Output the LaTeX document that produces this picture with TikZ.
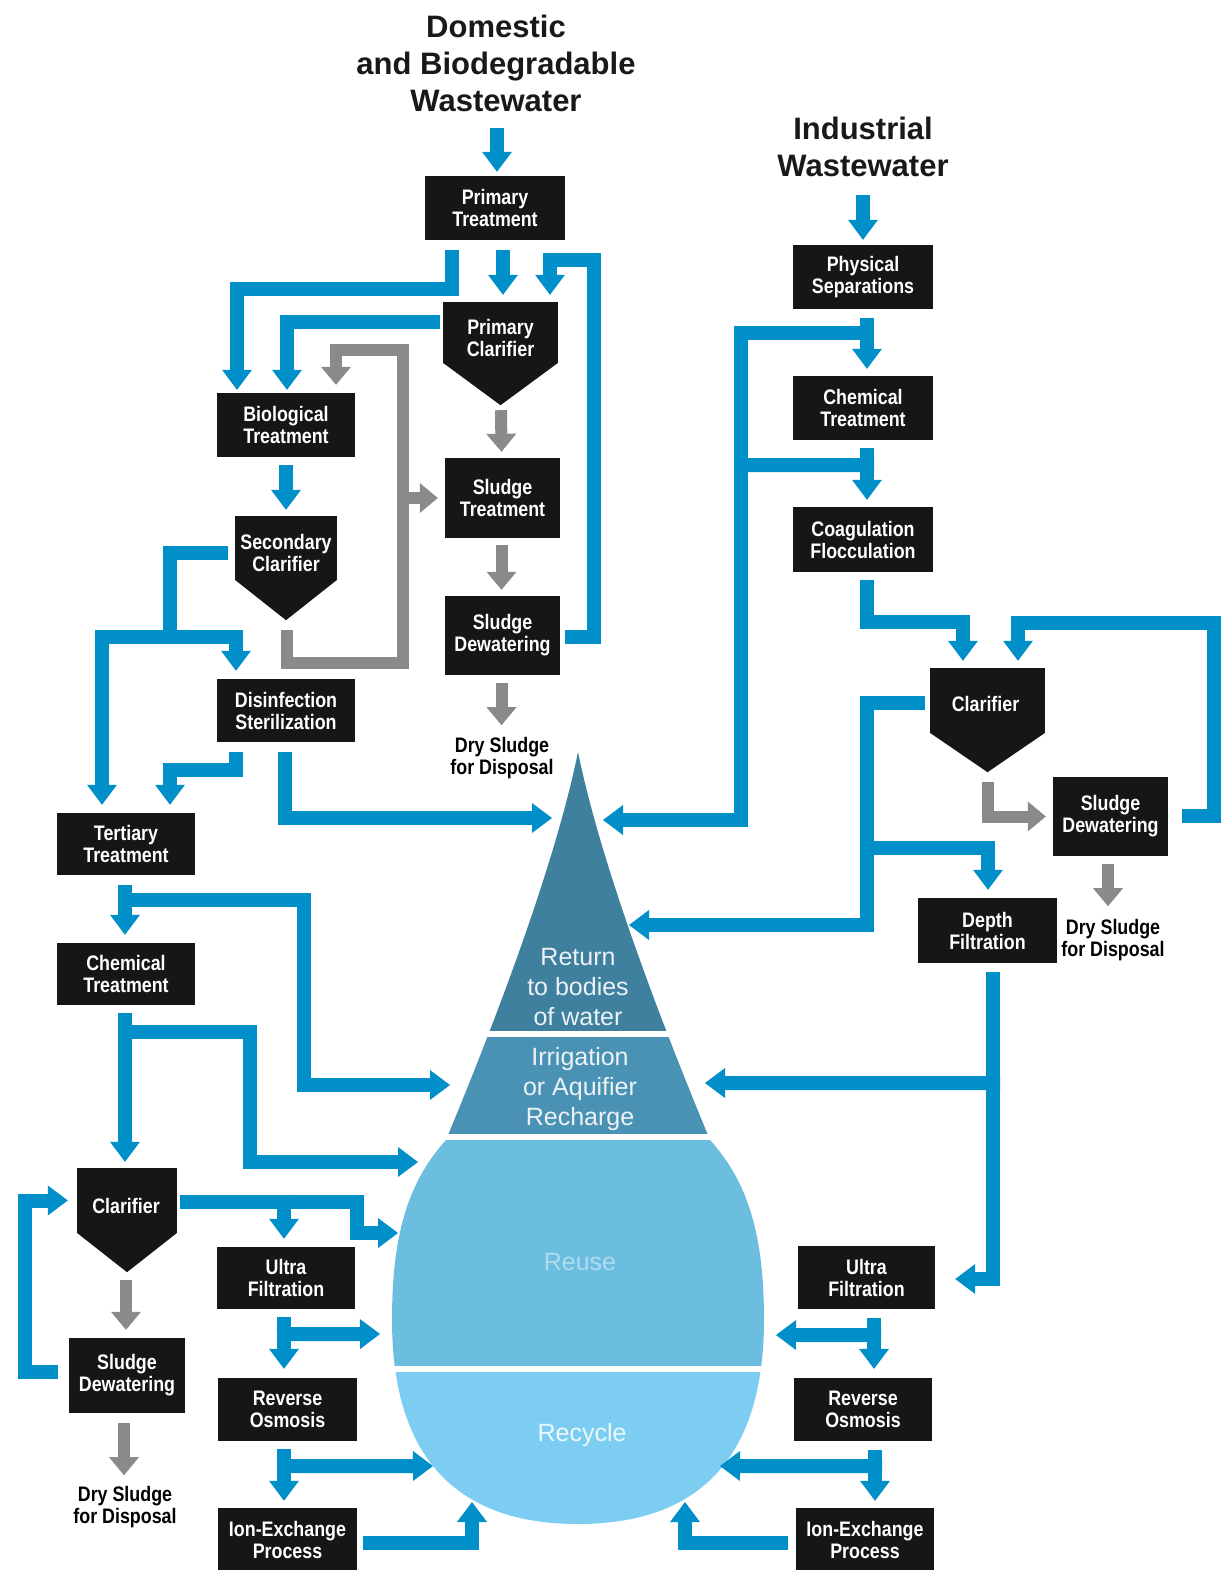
\documentclass[tikz,border=0pt]{standalone}
\usepackage{fontspec}
\setmainfont{Liberation Sans}
\newfontfamily\boxfont[FakeStretch=0.85]{Liberation Sans}
\newfontfamily\titlefont{Liberation Sans}
\usetikzlibrary{arrows.meta,calc}
\definecolor{flowblue}{RGB}{0,143,200}
\definecolor{flowgray}{RGB}{138,138,138}
\definecolor{boxblack}{RGB}{22,22,22}
\definecolor{dropA}{RGB}{62,128,158}
\definecolor{dropB}{RGB}{74,146,180}
\definecolor{dropC}{RGB}{108,190,225}
\definecolor{dropD}{RGB}{124,205,241}
\def\droppath{(578,752) .. controls (556,860) and (500,1010) .. (446,1140) .. controls (410,1180) and (392,1230) .. (392,1320) .. controls (392,1450) and (450,1524) .. (578,1524) .. controls (706,1524) and (764,1450) .. (764,1320) .. controls (764,1230) and (746,1180) .. (710,1140) .. controls (656,1010) and (600,860) .. (578,752) -- cycle}
\begin{document}
\begin{tikzpicture}[x=1pt,y=-1pt,
 box/.style={fill=boxblack,text=white,font=\boxfont\bfseries\fontsize{21}{22}\selectfont,align=center,inner sep=0pt},
 boxtext/.style={text=white,font=\boxfont\bfseries\fontsize{21}{22}\selectfont,align=center,inner sep=0pt},
 note/.style={text=black,font=\boxfont\bfseries\fontsize{21}{22}\selectfont,align=center,inner sep=0pt},
 title/.style={font=\titlefont\bfseries\fontsize{31}{37}\selectfont,align=center,text=black!90},
 droptext/.style={font=\fontsize{25}{30}\selectfont,align=center,text=white!90!dropA},
 bflow/.style={draw=flowblue,line width=14pt,line join=miter},
 barrow/.style={bflow,-{Triangle[width=30pt,length=20pt,line width=0pt]}},
 garrow/.style={draw=flowgray,line width=12pt,line join=miter,-{Triangle[width=30pt,length=18pt,line width=0pt]}},
]
\fill[white] (0,0) rectangle (1221,1570);
\useasboundingbox (0,0) rectangle (1221,1570);

% ---------- drop ----------
\coordinate (droptip) at (578,752);
\begin{scope}
\clip \droppath;
\fill[dropA] (370,740) rectangle (790,1031);
\fill[dropB] (370,1037) rectangle (790,1134);
\fill[dropC] (370,1140) rectangle (790,1366);
\fill[dropD] (370,1372) rectangle (790,1540);
\end{scope}
\node[droptext] (ret) at (578,987) {Return\\to bodies\\of water};
\node[droptext] (irr) at (580,1089) {Irrigation\\or Aquifier\\Recharge};
\node[droptext,text=white!45!dropC] (reu) at (580,1262) {Reuse};
\node[droptext,text=white!85!dropD] (rec) at (582,1435) {Recycle};

% ---------- titles ----------
\node[title] (dom) at (496,63) {Domestic\\and Biodegradable\\Wastewater};
\node[title] (ind) at (863,147) {Industrial\\Wastewater};

% ---------- left system ----------
\node[box,minimum width=140pt,minimum height=64pt] (pt) at (495,208) {Primary\\Treatment};
\node[box,minimum width=115pt,minimum height=61pt] (pc) at (500.5,332.5) {};
\fill[boxblack] ($(pc.south west)+(0,-0.5)$) -- ($(pc.south east)+(0,-0.5)$) -- ($(pc.south)+(0,42)$) -- cycle;
\node[boxtext] (pcl) at ($(pc.center)+(0,5)$) {Primary\\Clarifier};
\node[box,minimum width=138pt,minimum height=64pt] (bio) at (286,425) {Biological\\Treatment};
\node[box,minimum width=102pt,minimum height=64pt] (sc) at (286,548) {};
\fill[boxblack] ($(sc.south west)+(0,-0.5)$) -- ($(sc.south east)+(0,-0.5)$) -- ($(sc.south)+(0,40)$) -- cycle;
\node[boxtext] (scl) at ($(sc.center)+(0,4.5)$) {Secondary\\Clarifier};
\node[box,minimum width=115pt,minimum height=80pt] (st) at (502.5,498) {Sludge\\Treatment};
\node[box,minimum width=115pt,minimum height=79pt] (sd1) at (502.5,635.5) {Sludge\\Dewatering};
\node[note] (dry1) at (502,758) {Dry Sludge\\for Disposal};
\node[box,minimum width=138pt,minimum height=63pt] (dis) at (286,710.5) {Disinfection\\Sterilization};
\node[box,minimum width=138pt,minimum height=62pt] (ter) at (126,844) {Tertiary\\Treatment};
\node[box,minimum width=138pt,minimum height=62pt] (ch1) at (126,974) {Chemical\\Treatment};
\node[box,minimum width=100pt,minimum height=65pt] (cl1) at (127,1200.5) {};
\fill[boxblack] ($(cl1.south west)+(0,-0.5)$) -- ($(cl1.south east)+(0,-0.5)$) -- ($(cl1.south)+(0,39)$) -- cycle;
\node[boxtext] (cl1l) at ($(cl1.center)+(-1,5)$) {Clarifier};
\node[box,minimum width=116pt,minimum height=75pt] (sd2) at (127,1375.5) {Sludge\\Dewatering};
\node[note] (dry2) at (125,1507) {Dry Sludge\\for Disposal};
\node[box,minimum width=138pt,minimum height=62pt] (uf1) at (286,1278) {Ultra\\Filtration};
\node[box,minimum width=139pt,minimum height=63pt] (ro1) at (287.5,1409.5) {Reverse\\Osmosis};
\node[box,minimum width=139pt,minimum height=64pt] (ie1) at (287.5,1540) {Ion-Exchange\\Process};

% ---------- right system ----------
\node[box,minimum width=140pt,minimum height=64pt] (ps) at (863,277) {Physical\\Separations};
\node[box,minimum width=140pt,minimum height=64pt] (ch2) at (863,408) {Chemical\\Treatment};
\node[box,minimum width=140pt,minimum height=65pt] (cf) at (863,539.5) {Coagulation\\Flocculation};
\node[box,minimum width=115pt,minimum height=65pt] (cl2) at (987.5,700.5) {};
\fill[boxblack] ($(cl2.south west)+(0,-0.5)$) -- ($(cl2.south east)+(0,-0.5)$) -- ($(cl2.south)+(0,39)$) -- cycle;
\node[boxtext] (cl2l) at ($(cl2.center)+(-2,3)$) {Clarifier};
\node[box,minimum width=115pt,minimum height=79pt] (sd3) at (1110.5,816.5) {Sludge\\Dewatering};
\node[note] (dry3) at (1113,940) {Dry Sludge\\for Disposal};
\node[box,minimum width=139pt,minimum height=65pt] (df) at (987.5,930.5) {Depth\\Filtration};
\node[box,minimum width=137pt,minimum height=63pt] (uf2) at (866.5,1277.5) {Ultra\\Filtration};
\node[box,minimum width=138pt,minimum height=63pt] (ro2) at (863,1409.5) {Reverse\\Osmosis};
\node[box,minimum width=138pt,minimum height=64pt] (ie2) at (865,1540) {Ion-Exchange\\Process};

% ---------- left connectors ----------
\draw[barrow] ($(pt.north)+(2,-48)$) -- ($(pt.north)+(2,-4)$);
\draw[barrow] ($(pt.south)+(8,10)$) -- ($(pc.north)+(2.5,-7)$);
\draw[barrow] ($(pt.south)+(-43,10)$) |- ($(bio.north)+(-49,-104)$) -- ($(bio.north)+(-49,-3)$);
\draw[barrow] ($(pc.west)+(-3,-11)$) -| ($(bio.north)+(1,-3)$);
\draw[barrow] ($(sd1.east)+(5,1.5)$) -| ($(pc.north east)+(36,-42)$) -| ($(pc.north)+(49.5,-7)$);
\draw[barrow] ($(bio.south)+(0,8)$) -- ($(sc.north)+(0,-6)$);
\draw[garrow] ($(sc.south)+(1,50)$) |- ($(st.west)+(-42,165)$) |- ($(bio.north)+(50,-43)$) -- ($(bio.north)+(50,-8)$);
\draw[garrow] ($(st.west)+(-48,0)$) -- ($(st.west)+(-7,0)$);
\draw[garrow] ($(pc.south)+(0.5,47)$) -- ($(st.north)+(-1,-6)$);
\draw[garrow] ($(st.south)+(-1,7)$) -- ($(sd1.north)+(-1,-6)$);
\draw[garrow] ($(sd1.south)+(-1,8)$) -- ($(sd1.south)+(-1,50)$);
\draw[barrow] ($(sc.west)+(-7,5)$) -| ($(ter.north)+(44,-176)$) -| ($(ter.north)+(-24,-8)$);
\draw[barrow] ($(ter.north)+(37,-176)$) -| ($(dis.north)+(-50,-8)$);
\draw[barrow] ($(dis.south)+(-50,10)$) |- ($(ter.north)+(44,-43)$) -- ($(ter.north)+(44,-8)$);
\draw[barrow] ($(dis.south)+(-1,10)$) |- ($(droptip)+(-26,66)$);
\draw[barrow] ($(ter.south)+(-1,10)$) -- ($(ch1.north)+(-1,-8)$);
\draw[barrow] ($(ter.south)+(-8,25)$) -| ($(droptip)+(-274,333)$) -- ($(droptip)+(-128,333)$);
\draw[barrow] ($(ch1.south)+(-1,8)$) -- ($(cl1.north)+(-2,-6)$);
\draw[barrow] ($(ch1.south)+(-8,27)$) -| ($(droptip)+(-328,410)$) -- ($(droptip)+(-160,410)$);
\draw[barrow] ($(cl1.east)+(3,1.5)$) -| ($(droptip)+(-221,481)$) -- ($(droptip)+(-180,481)$);
\draw[barrow] ($(uf1.north)+(-2,-52)$) -- ($(uf1.north)+(-2,-8)$);
\draw[barrow] ($(sd2.west)+(-11,-3.5)$) -| ($(cl1.west)+(-52,0)$) -- ($(cl1.west)+(-9,0)$);
\draw[garrow] ($(cl1.south)+(-1,47)$) -- ($(sd2.north)+(-1,-8)$);
\draw[garrow] ($(sd2.south)+(-3,10)$) -- ($(sd2.south)+(-3,62)$);
\draw[barrow] ($(uf1.south)+(-2,8)$) -- ($(ro1.north)+(-3.5,-9)$);
\draw[barrow] ($(uf1.south)+(-9,25)$) -- ($(droptip)+(-198,582)$);
\draw[barrow] ($(ro1.south)+(-3.5,8)$) -- ($(ie1.north)+(-3.5,-7)$);
\draw[barrow] ($(ro1.south)+(-10.5,25)$) -- ($(droptip)+(-145,714)$);
\draw[barrow] ($(ie1.east)+(6,3)$) -| ($(droptip)+(-106,750)$);

% ---------- right connectors ----------
\draw[barrow] ($(ps.north)+(0,-50)$) -- ($(ps.north)+(0,-5)$);
\draw[barrow] ($(ps.south)+(4,9)$) -- ($(ch2.north)+(4,-7)$);
\draw[barrow] ($(ps.south)+(11,24)$) -| ($(droptip)+(163,68)$) -- ($(droptip)+(25,68)$);
\draw[barrow] ($(ch2.south)+(4,8)$) -- ($(cf.north)+(4,-7)$);
\draw[bflow] ($(ch2.south)+(11,25)$) -- ($(droptip)+(156,-287)$);
\draw[barrow] ($(cf.south)+(4,8)$) |- ($(cl2.north)+(-24.5,-46)$) -- ($(cl2.north)+(-24.5,-7)$);
\draw[barrow] ($(sd3.east)+(14,-0.5)$) -| ($(cl2.north)+(226.5,-45)$) -| ($(cl2.north)+(30.5,-7)$);
\draw[garrow] ($(cl2.south)+(0.5,49)$) |- ($(sd3.west)+(-7,0)$);
\draw[garrow] ($(sd3.south)+(-2.5,8)$) -- ($(sd3.south)+(-2.5,50)$);
\draw[barrow] ($(cl2.west)+(-5,2.5)$) -| ($(droptip)+(289,173)$) -- ($(droptip)+(51,173)$);
\draw[barrow] ($(df.north)+(-127.5,-50)$) -| ($(df.north)+(0.5,-8)$);
\draw[barrow] ($(df.south)+(5.5,9)$) |- ($(uf2.east)+(20,1.5)$);
\draw[barrow] ($(df.south)+(12.5,120)$) -- ($(droptip)+(127,331)$);
\draw[barrow] ($(uf2.south)+(7.5,9)$) -- ($(ro2.north)+(11,-9)$);
\draw[barrow] ($(uf2.south)+(14.5,26)$) -- ($(droptip)+(198,583)$);
\draw[barrow] ($(ro2.south)+(12,9)$) -- ($(ie2.north)+(10,-7)$);
\draw[barrow] ($(ro2.south)+(19,25)$) -- ($(droptip)+(142,714)$);
\draw[barrow] ($(ie2.west)+(-8,3)$) -| ($(droptip)+(107,750)$);
\end{tikzpicture}
\end{document}
